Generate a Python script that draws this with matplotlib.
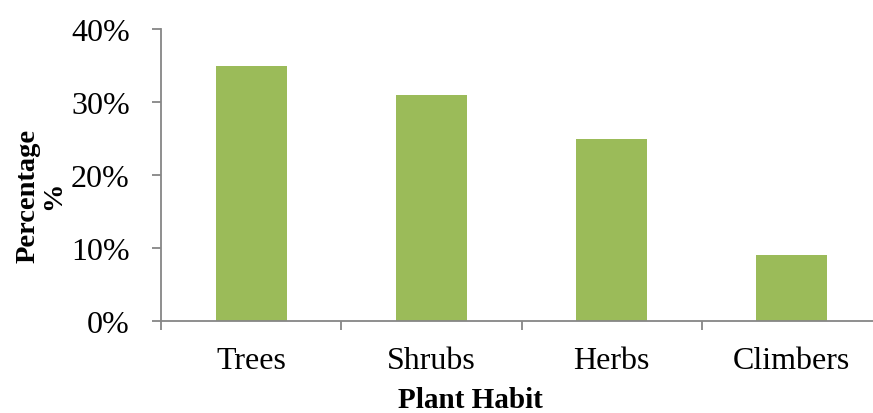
import matplotlib
matplotlib.use("Agg")
import matplotlib.pyplot as plt
from matplotlib.ticker import FixedLocator, PercentFormatter

categories = ["Trees", "Shrubs", "Herbs", "Climbers"]
values = [35, 31, 25, 9]
y_ticks = [0, 10, 20, 30, 40]

W, H = 873, 414
fig = plt.figure(figsize=(W / 100, H / 100), dpi=100)
plt.rcParams['font.family'] = ['Liberation Serif', 'DejaVu Serif']

left, right, top, bottom = 161, 882, 30, 322
ax = fig.add_axes([left / W, (H - bottom) / H, (right - left) / W, (bottom - top) / H])

x = list(range(len(categories)))
ax.bar(x, values, width=0.395, color="#9BBB59", zorder=2)

ax.set_xlim(-0.5, len(categories) - 0.5)
ax.set_ylim(0, 40)

gray = "#868686"
for s in ["top", "right"]:
    ax.spines[s].set_visible(False)
ax.spines["left"].set_color(gray)
ax.spines["bottom"].set_color(gray)
ax.spines["left"].set_linewidth(1.3)
ax.spines["bottom"].set_linewidth(1.3)

ax.set_yticks(y_ticks)
ax.yaxis.set_major_formatter(PercentFormatter(decimals=0))
ax.tick_params(axis="y", length=6.5, width=1.3, color=gray, pad=16, labelsize=23)

ax.set_xticks(x)
ax.set_xticklabels(categories)
ax.tick_params(axis="x", which="major", length=0, pad=18, labelsize=23)
ax.xaxis.set_minor_locator(FixedLocator([i - 0.5 for i in range(len(categories) + 1)]))
ax.tick_params(axis="x", which="minor", length=6.5, width=1.3, color=gray)

fig.text(41 / W, 1 - 196 / H, "Percentage\n%", rotation=90, ha="center", va="center",
         multialignment="center", fontsize=20.5, fontweight="bold", linespacing=1.05)
fig.text(470 / W, 1 - 401 / H, "Plant Habit", ha="center", va="center",
         fontsize=21, fontweight="bold")

fig.savefig("out.png", dpi=100)
